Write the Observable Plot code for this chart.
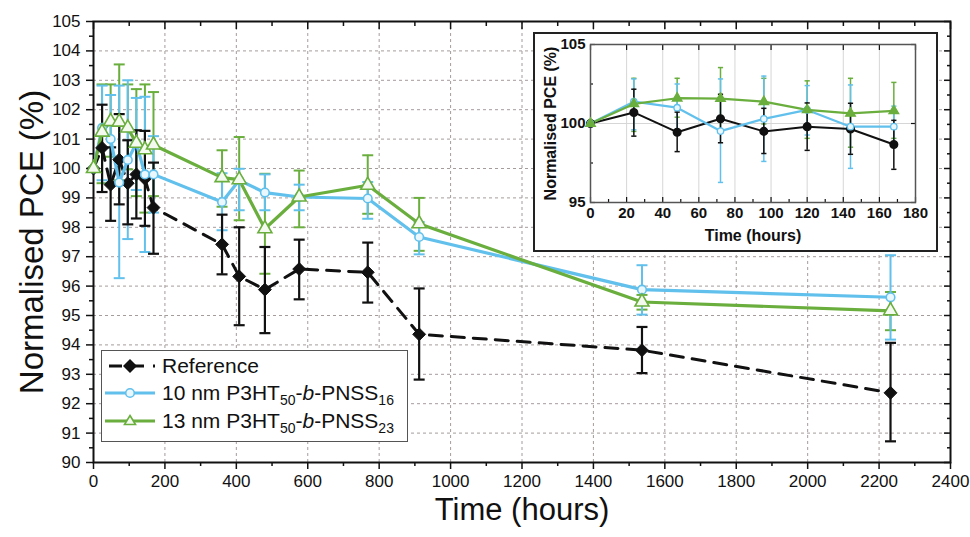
<!DOCTYPE html>
<html><head><meta charset="utf-8">
<script src="https://cdn.jsdelivr.net/npm/d3@7"></script>
<script src="https://cdn.jsdelivr.net/npm/@observablehq/plot@0.6"></script>
<style>
body{margin:0;background:#fff;font-family:"Liberation Sans",Arial,sans-serif;}
#wrap{position:relative;width:970px;height:537px;overflow:hidden;background:#fff;}
#wrap svg{display:block;}
#inset{position:absolute;left:533px;top:32px;width:405px;height:220px;border:2px solid #222;box-sizing:border-box;background:#fff;}
#legend{position:absolute;left:101px;top:350px;width:307px;height:92px;border:1.5px solid #555;box-sizing:border-box;background:#fff;font-size:21px;color:#111;}
#legend .row{position:absolute;left:0;height:28px;display:flex;align-items:center;white-space:nowrap;}
#legend svg{margin-left:1px;margin-right:5px;}
#legend sub{font-size:14px;vertical-align:-5px;line-height:0;}
</style></head><body>
<div id="wrap"></div>
<script>
// ---- data ----
const hours   = [0, 24, 48, 72, 96, 120, 144, 168, 360, 408, 480, 576, 768, 912, 1536, 2232];
const refPCE  = [100, 100.70, 99.45, 100.30, 99.50, 99.80, 99.65, 98.67, 97.42, 96.33, 95.88, 96.58, 96.47, 94.36, 93.82, 92.37];
const refLo   = [100, 99.20, 98.22, 98.78, 98.10, 98.30, 98.05, 97.10, 96.40, 94.67, 94.40, 95.55, 95.44, 92.82, 93.04, 90.72];
const refHi   = [100, 102.17, 100.72, 101.85, 100.96, 101.30, 101.28, 100.20, 98.43, 98.00, 97.33, 97.58, 97.48, 95.92, 94.61, 94.07];
const bluePCE = [100, 101.38, 101.00, 99.52, 100.29, 100.86, 99.80, 99.80, 98.86, 99.60, 99.18, 99.03, 98.98, 97.67, 95.88, 95.62];
const blueLo  = [100, 99.60, 99.50, 96.27, 97.60, 99.27, 97.16, 98.50, 97.90, 98.58, 98.58, 98.58, 98.29, 97.08, 95.03, 94.18];
const blueHi  = [100, 102.82, 102.50, 102.82, 103.00, 102.40, 102.44, 101.10, 99.84, 99.99, 99.80, 99.45, 99.54, 98.18, 96.71, 97.05];
const grnPCE  = [100, 101.24, 101.60, 101.58, 101.38, 100.86, 100.64, 100.80, 99.69, 99.62, 97.95, 99.03, 99.43, 98.12, 95.46, 95.16];
const grnLo   = [100, 99.50, 100.40, 99.60, 99.97, 99.06, 98.50, 99.06, 98.70, 98.24, 96.42, 98.00, 98.46, 97.20, 95.20, 94.50];
const grnHi   = [100, 102.86, 102.86, 103.54, 102.86, 102.70, 102.86, 102.60, 100.62, 101.07, 99.82, 99.93, 100.45, 99.00, 95.70, 95.80];
const seriesNames = ["Reference", "10 nm P3HT50-b-PNSS16", "13 nm P3HT50-b-PNSS23"];
const xTicksMain = d3.range(0, 2401, 200);
const yTicksMain = d3.range(90, 106, 1);
const xTicksInset = d3.range(0, 181, 20);
const yTicksInset = [95, 100, 105];

// ---- styling ----
const font = '"Liberation Sans", Arial, sans-serif';
const BLACK = "#111", BLUE = "#62c0ec", GREEN = "#6aae3e";
const mk = (ys, lo, hi) => hours.map((h, i) => ({h, y: ys[i], lo: lo[i], hi: hi[i]}));
const ref = mk(refPCE, refLo, refHi);
const blue = mk(bluePCE, blueLo, blueHi);
const grn = mk(grnPCE, grnLo, grnHi);
const cap = {draw(ctx, size) { const w = Math.sqrt(size / Math.PI); ctx.moveTo(-w, 0); ctx.lineTo(w, 0); }};

function errMarks(rows, color, sw, capR) {
  return [
    Plot.ruleX(rows, {x: "h", y1: "lo", y2: "hi", stroke: color, strokeWidth: sw}),
    Plot.dot(rows, {x: "h", y: "lo", symbol: cap, r: capR, stroke: color, strokeWidth: sw}),
    Plot.dot(rows, {x: "h", y: "hi", symbol: cap, r: capR, stroke: color, strokeWidth: sw})
  ];
}
const none = () => "";

const main = Plot.plot({
  width: 970, height: 537,
  marginLeft: 93, marginRight: 20, marginTop: 21, marginBottom: 75,
  style: {fontFamily: font, background: "white", color: "#111", overflow: "visible"},
  x: {domain: [0, 2400]},
  y: {domain: [90, 105]},
  marks: [
    Plot.gridX(xTicksMain, {stroke: "#a59c9c", strokeOpacity: 1, strokeDasharray: "3,3", strokeWidth: 1}),
    Plot.gridY(yTicksMain, {stroke: "#a59c9c", strokeOpacity: 1, strokeDasharray: "3,3", strokeWidth: 1}),
    Plot.axisX({ticks: xTicksMain, tickSize: 7, tickPadding: 5, fontSize: 17, tickFormat: d => String(d), label: null, strokeWidth: 1.5}),
    Plot.axisX({ticks: d3.range(100, 2400, 200), tickSize: 4, tickFormat: none, label: null, strokeWidth: 1.5}),
    Plot.axisX({anchor: "top", ticks: xTicksMain, tickSize: -7, tickFormat: none, label: null, strokeWidth: 1.5}),
    Plot.axisX({anchor: "top", ticks: d3.range(100, 2400, 200), tickSize: -4, tickFormat: none, label: null, strokeWidth: 1.5}),
    Plot.axisY({ticks: yTicksMain, tickSize: 7, tickPadding: 6, fontSize: 17, tickFormat: d => String(d), label: null, strokeWidth: 1.5}),
    Plot.axisY({ticks: d3.range(90.5, 105, 1), tickSize: 4, tickFormat: none, label: null, strokeWidth: 1.5}),
    Plot.axisY({anchor: "right", ticks: yTicksMain, tickSize: -7, tickFormat: none, label: null, strokeWidth: 1.5}),
    Plot.axisY({anchor: "right", ticks: d3.range(90.5, 105, 1), tickSize: -4, tickFormat: none, label: null, strokeWidth: 1.5}),
    Plot.frame({stroke: "#111", strokeWidth: 2}),
    ...errMarks(grn, GREEN, 2, 5.5),
    ...errMarks(blue, BLUE, 2, 5.5),
    ...errMarks(ref, BLACK, 2.2, 5.5),
    Plot.line(ref, {x: "h", y: "y", stroke: BLACK, strokeWidth: 3, strokeDasharray: "13,9"}),
    Plot.line(blue, {x: "h", y: "y", stroke: BLUE, strokeWidth: 3.2}),
    Plot.line(grn, {x: "h", y: "y", stroke: GREEN, strokeWidth: 3.2}),
    Plot.dot(ref, {x: "h", y: "y", symbol: "diamond2", r: 5.8, fill: BLACK, stroke: BLACK, strokeWidth: 1}),
    Plot.dot(blue, {x: "h", y: "y", symbol: "circle", r: 4.3, fill: "#eaf7fd", stroke: BLUE, strokeWidth: 1.6}),
    Plot.dot(grn, {x: "h", y: "y", symbol: "triangle", r: 5.2, fill: "#f4faef", stroke: GREEN, strokeWidth: 1.6}),
    Plot.text(["Time (hours)"], {frameAnchor: "bottom", textAnchor: "middle", dy: 57, fontSize: 31, fill: "#111"}),
    Plot.text(["Normalised PCE (%)"], {frameAnchor: "left", textAnchor: "middle", rotate: -90, dx: -61, fontSize: 33, fill: "#111"})
  ]
});
document.getElementById("wrap").append(main);

// ---- inset ----
const early = r => r.filter(d => d.h <= 168);
const inset = Plot.plot({
  width: 401, height: 216,
  marginLeft: 55, marginRight: 21, marginTop: 10, marginBottom: 48,
  style: {fontFamily: font, background: "white", color: "#111", overflow: "visible"},
  x: {domain: [0, 180]},
  y: {domain: [95, 105]},
  marks: [
    Plot.gridX(xTicksInset, {stroke: "#d6d6d6", strokeOpacity: 1, strokeWidth: 1}),
    Plot.gridY(yTicksInset, {stroke: "#d6d6d6", strokeOpacity: 1, strokeWidth: 1}),
    Plot.axisX({ticks: xTicksInset, tickSize: -5, tickPadding: 10, fontSize: 15, fontWeight: "bold", tickFormat: d => String(d), label: null, strokeWidth: 1.2}),
    Plot.axisX({ticks: d3.range(10, 180, 20), tickSize: -3, tickFormat: none, label: null, strokeWidth: 1.2}),
    Plot.axisX({anchor: "top", ticks: xTicksInset, tickSize: -5, tickFormat: none, label: null, strokeWidth: 1.2}),
    Plot.axisY({ticks: yTicksInset, tickSize: -5, tickPadding: 10, fontSize: 15, fontWeight: "bold", tickFormat: d => String(d), label: null, strokeWidth: 1.2}),
    Plot.axisY({ticks: [97.5, 102.5], tickSize: -3, tickFormat: none, label: null, strokeWidth: 1.2}),
    Plot.axisY({anchor: "right", ticks: yTicksInset, tickSize: -5, tickFormat: none, label: null, strokeWidth: 1.2}),
    Plot.frame({stroke: "#555", strokeWidth: 1.5}),
    ...errMarks(early(grn), GREEN, 1.5, 2.6),
    ...errMarks(early(blue), BLUE, 1.5, 2.6),
    ...errMarks(early(ref), BLACK, 1.5, 2.6),
    Plot.line(early(ref), {x: "h", y: "y", stroke: BLACK, strokeWidth: 2}),
    Plot.line(early(blue), {x: "h", y: "y", stroke: BLUE, strokeWidth: 2.2}),
    Plot.line(early(grn), {x: "h", y: "y", stroke: GREEN, strokeWidth: 2.2}),
    Plot.dot(early(ref), {x: "h", y: "y", symbol: "circle", r: 3.8, fill: BLACK, stroke: BLACK}),
    Plot.dot(early(blue), {x: "h", y: "y", symbol: "circle", r: 3.2, fill: "#eaf7fd", stroke: BLUE, strokeWidth: 1.3}),
    Plot.dot(early(grn), {x: "h", y: "y", symbol: "triangle", r: 3.6, fill: GREEN, stroke: GREEN, strokeWidth: 1.3}),
    Plot.text(["Time (hours)"], {frameAnchor: "bottom", textAnchor: "middle", dy: 38, fontSize: 16, fontWeight: "bold", fill: "#111"}),
    Plot.text(["Normalised PCE (%)"], {frameAnchor: "left", textAnchor: "middle", rotate: -90, dx: -40, fontSize: 16, fontWeight: "bold", fill: "#111"})
  ]
});
const insetDiv = document.createElement("div");
insetDiv.id = "inset";
insetDiv.append(inset);
document.getElementById("wrap").append(insetDiv);

// ---- legend ----
const sub = s => s.replace(/P3HT50/, "P3HT<sub>50</sub>").replace(/-b-/, "-<i>b</i>-").replace(/PNSS(\d+)/, "PNSS<sub>$1</sub>");
const samples = [
  `<line x1="2" x2="52" y1="14" y2="14" stroke="${BLACK}" stroke-width="3" stroke-dasharray="13,9" stroke-dashoffset="-4"/><path d="M27,7 L34,14 L27,21 L20,14Z" fill="${BLACK}"/>`,
  `<line x1="2" x2="52" y1="14" y2="14" stroke="${BLUE}" stroke-width="3.2"/><circle cx="27" cy="14" r="4.3" fill="#eaf7fd" stroke="${BLUE}" stroke-width="1.6"/>`,
  `<line x1="2" x2="52" y1="14" y2="14" stroke="${GREEN}" stroke-width="3.2"/><path d="M27,8.5 L32.5,17.5 L21.5,17.5Z" fill="#f4faef" stroke="${GREEN}" stroke-width="1.6"/>`
];
const tops = [1, 27.5, 56];
const leg = document.createElement("div");
leg.id = "legend";
leg.innerHTML = seriesNames.map((n, i) =>
  `<div class="row" style="top:${tops[i]}px"><svg width="54" height="28">${samples[i]}</svg><span>${i === 0 ? n : sub(n)}</span></div>`
).join("");
document.getElementById("wrap").append(leg);
</script>
</body></html>
